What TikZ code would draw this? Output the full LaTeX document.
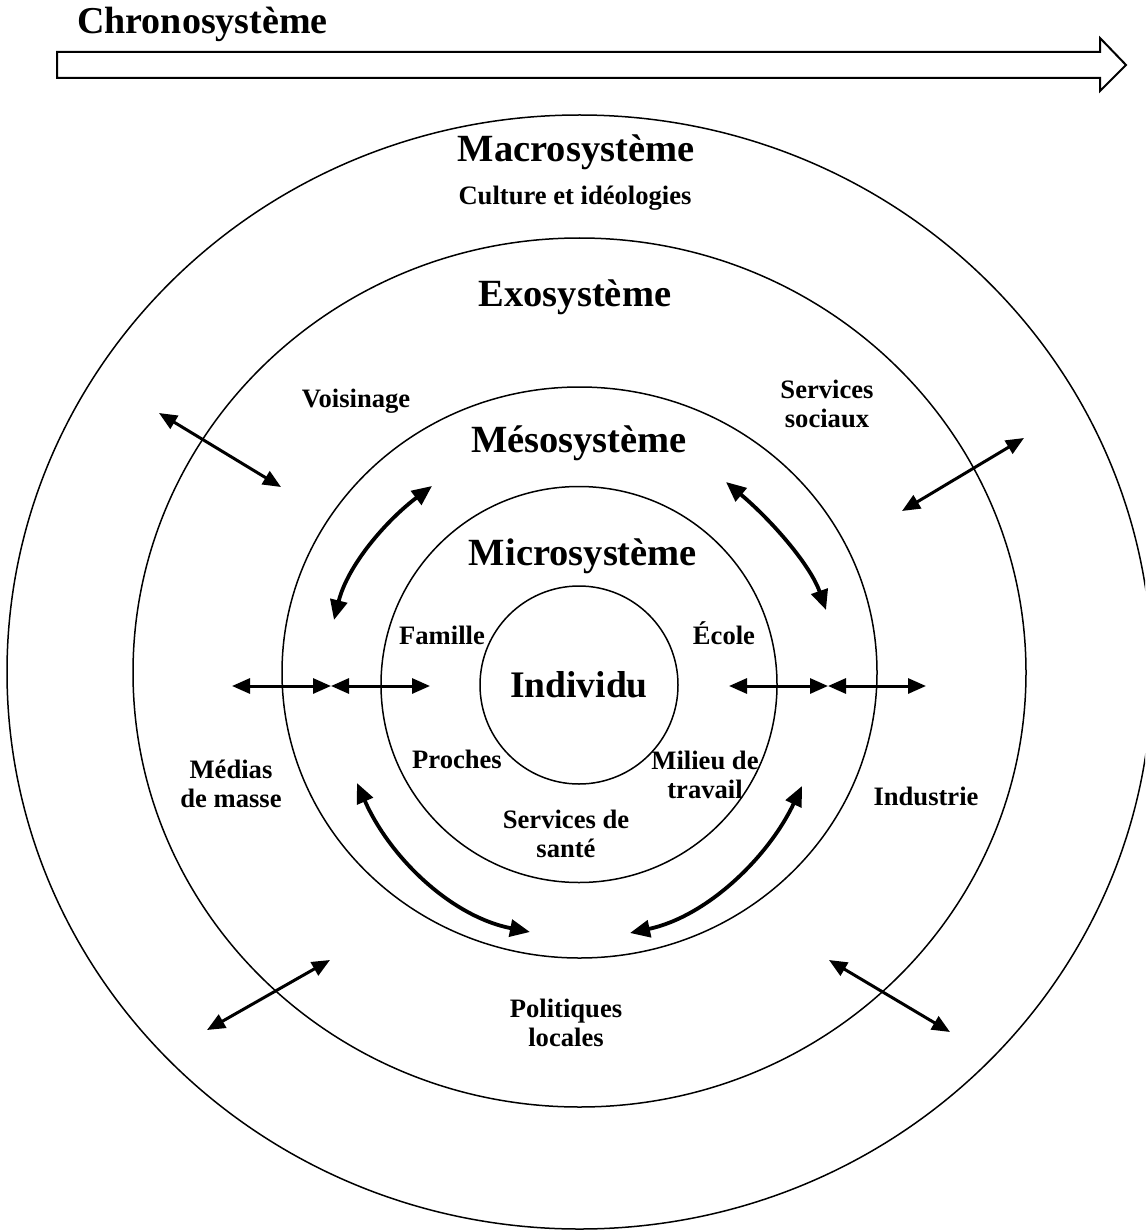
\documentclass[tikz,border=0pt]{standalone}
\usepackage{fontspec}
\setmainfont{Liberation Serif}
\usetikzlibrary{arrows.meta}
\tikzset{
  ring/.style={line width=1.5pt},
  big/.style={font=\bfseries\fontsize{38.5}{42}\selectfont, anchor=base, inner sep=0pt},
  lab/.style={font=\bfseries\fontsize{26.6}{29}\selectfont, align=center, anchor=base, inner sep=0pt},
  twoway/.style={line width=3pt, {Triangle[length=18pt,width=15pt]}-{Triangle[length=18pt,width=15pt]}},
  bendway/.style={line width=3.8pt, {Triangle[length=20pt,width=17pt]}-{Triangle[length=20pt,width=17pt]}},
  chrono/.style={line width=2pt, fill=white, line join=miter},
}
\begin{document}
\begin{tikzpicture}[x=1pt,y=-1pt]
\useasboundingbox (0,0) rectangle (1145,1230);
\clip (0,0) rectangle (1145,1230);
\fill[white] (0,0) rectangle (1145,1230);

% chronosystem arrow
\node[font=\bfseries\fontsize{38}{42}\selectfont, anchor=base west, inner sep=0pt] (chr) at (77,34) {Chronosystème};
\draw[chrono] (57,52) -- (1100,52) -- (1100,38) -- (1126,65) -- (1100,91) -- (1100,78) -- (57,78) -- cycle;

% rings
\coordinate (c0) at (579.5,672.5);
\draw[ring] (579.5,672) ellipse [x radius=572.5pt, y radius=557pt];
\draw[ring] (c0) ellipse [x radius=446.5pt, y radius=434.5pt];
\draw[ring] (c0) ellipse [x radius=297.5pt, y radius=285.5pt];
\draw[ring] (579,684.5) circle [radius=198pt];
\node[ring, draw, circle, minimum size=198pt, inner sep=0pt,
      font=\bfseries\fontsize{37.5}{40}\selectfont] (ind) at (579,685) {Individu};

% headings
\node[big] (macro) at (576,162) {Macrosystème};
\node[lab] (cult) at (575,205) {Culture et idéologies};
\node[big] (exo) at (575,306) {Exosystème};
\node[big] (meso) at (579,452) {Mésosystème};
\node[big] (micro) at (583,565) {Microsystème};

% labels (anchor base = baseline of last line)
\node[lab] (fam) at (442,644) {Famille};
\node[lab] (eco) at (724,644) {École};
\node[lab] (pro) at (457,768) {Proches};
\node[lab] (mil) at (705,798) {Milieu de\\travail};
\node[lab] (sante) at (566,857) {Services de\\santé};
\node[lab] (vois) at (356,407) {Voisinage};
\node[lab] (soc) at (827,427) {Services\\sociaux};
\node[lab] (med) at (231,807) {Médias\\de masse};
\node[lab] (indu) at (926,805) {Industrie};
\node[lab] (pol) at (566,1046) {Politiques\\locales};

% horizontal arrows
\coordinate (hl1) at (232,686);
\coordinate (hl2) at (331,686);
\coordinate (hl3) at (430,686);
\coordinate (hr1) at (729,686);
\coordinate (hr2) at (828,686);
\coordinate (hr3) at (926,686);
\draw[twoway] (hl1) -- (hl2);
\draw[twoway] (hl2) -- (hl3);
\draw[twoway] (hr1) -- (hr2);
\draw[twoway] (hr2) -- (hr3);

% diagonal arrows across the exosystem ring
\coordinate (d1a) at (159,413);  \coordinate (d1b) at (281,487);
\coordinate (d2a) at (1024,438); \coordinate (d2b) at (902,511);
\coordinate (d3a) at (207,1030); \coordinate (d3b) at (330,960);
\coordinate (d4a) at (829,960);  \coordinate (d4b) at (950,1032);
\draw[twoway] (d1a) -- (d1b);
\draw[twoway] (d2a) -- (d2b);
\draw[twoway] (d3a) -- (d3b);
\draw[twoway] (d4a) -- (d4b);

% curved arrows in the mesosystem ring
\coordinate (ula) at (432,486);  \coordinate (ulb) at (334,620);
\coordinate (ura) at (726,482);  \coordinate (urb) at (826,610);
\coordinate (lla) at (357,783);  \coordinate (llb) at (530,932);
\coordinate (lra) at (802,786);  \coordinate (lrb) at (630,933);
\draw[bendway] (ula) .. controls (386.6,520.2) and (347.7,564.9) .. (ulb);
\draw[bendway] (ura) .. controls (771.4,520.2) and (810.3,564.9) .. (urb);
\draw[bendway] (lla) .. controls (389.6,857) and (450.6,916.3) .. (llb);
\draw[bendway] (lra) .. controls (768.4,857) and (707.4,916.3) .. (lrb);
\end{tikzpicture}
\end{document}
